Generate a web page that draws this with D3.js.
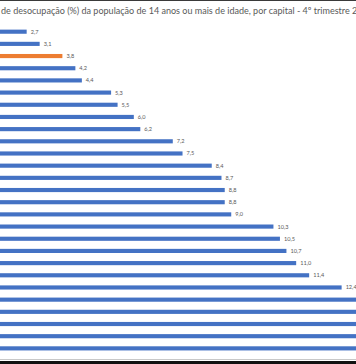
<!DOCTYPE html>
<html>
<head>
<meta charset="utf-8">
<script src="https://d3js.org/d3.v7.min.js"></script>
<style>
  html, body { margin: 0; padding: 0; background: #fff; overflow: hidden; }
  svg { display: block; }
</style>
</head>
<body>
<script>
// ---- data ----
const titleText = "Taxa de desocupação (%) da população de 14 anos ou mais de idade, por capital - 4º trimestre 2023";
const categories = d3.range(1, 28).map(i => "Capital " + i);
const values = [2.7, 3.1, 3.8, 4.2, 4.4, 5.3, 5.5, 6.0, 6.2, 7.2, 7.5, 8.4, 8.7, 8.8, 8.8, 9.0,
                10.3, 10.5, 10.7, 11.0, 11.4, 12.4, 13.0, 13.3, 13.7, 14.2, 14.9];
const highlightIndex = [2];
const valueLabels = values.map(v => v.toFixed(1).replace(".", ","));

// ---- layout ----
const W = 356, H = 364;
const svg = d3.select("body").append("svg").attr("width", W).attr("height", H);

const x = d3.scaleLinear().domain([0, 14]).range([-61, -61 + 14 * 32.47]);
const y = d3.scaleBand().domain(categories).range([25.6, 25.6 + 27 * 12.18])
  .paddingInner(0.66).paddingOuter(0.33);

// top / bottom frame lines
svg.append("rect").attr("x", 0).attr("y", 0).attr("width", W).attr("height", 1).attr("fill", "#3a3a3a");
svg.append("rect").attr("x", 0).attr("y", 359).attr("width", W).attr("height", 1).attr("fill", "#c8c8c8");
svg.append("rect").attr("x", 0).attr("y", 361).attr("width", W).attr("height", 3).attr("fill", "#111");

// title
const title = svg.append("text")
  .attr("y", 13.5)
  .attr("fill", "#595959")
  .style("font-family", "Lato, 'Open Sans', sans-serif")
  .style("font-size", "9px")
  .text(titleText);
(function fitTitle() {
  const n = title.node();
  const iD = 5;
  const i2 = titleText.lastIndexOf("2023");
  const w = n.getStartPositionOfChar(i2).x - n.getStartPositionOfChar(iD).x;
  const fs = 9 * 351.5 / w;
  title.style("font-size", fs + "px");
  const off = n.getStartPositionOfChar(iD).x;
  title.attr("x", 1 - off);
})();

// bars
svg.append("g").selectAll("rect").data(values).join("rect")
  .attr("x", x(0))
  .attr("y", (d, i) => y(categories[i]))
  .attr("width", d => x(d) - x(0))
  .attr("height", y.bandwidth())
  .attr("fill", (d, i) => highlightIndex.includes(i) ? "#ED7D31" : "#4472C4");

// value labels (only those that fall inside the visible crop)
const shown = values.map((d, i) => i).filter(i => x(values[i]) + 4 < W);
svg.append("g").selectAll("text").data(shown).join("text")
  .attr("x", i => x(values[i]) + 4)
  .attr("y", i => y(categories[i]) + y.bandwidth() / 2)
  .attr("dy", "0.35em")
  .attr("fill", "#595959")
  .style("font-family", "Lato, 'Open Sans', sans-serif")
  .style("font-size", "5.6px")
  .text(i => valueLabels[i]);
</script>
</body>
</html>
